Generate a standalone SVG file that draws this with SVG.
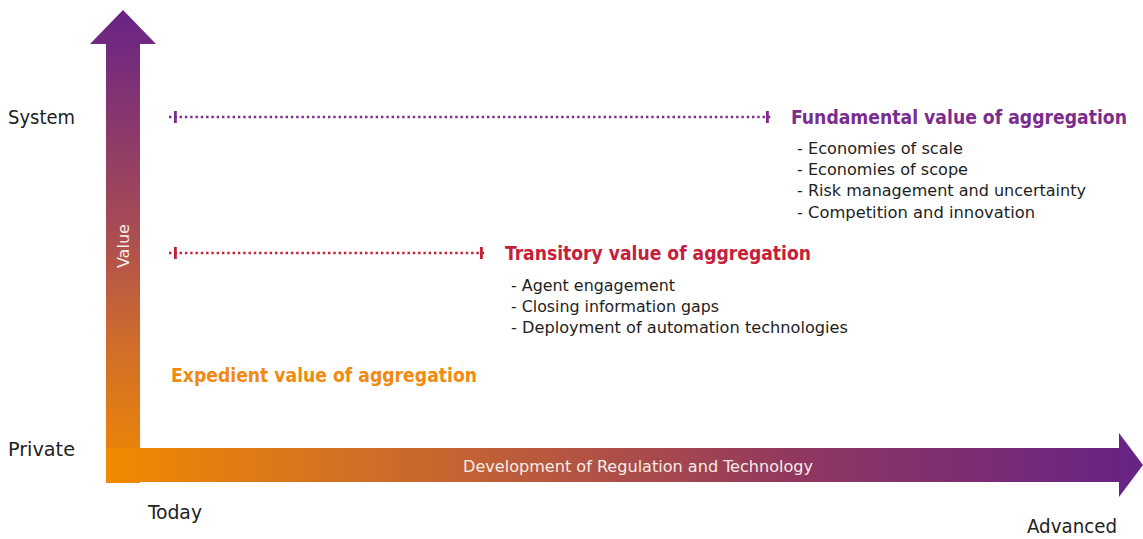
<svg xmlns="http://www.w3.org/2000/svg" width="1143" height="539" viewBox="0 0 1143 539">
  <defs>
    <linearGradient id="gradUp" gradientUnits="userSpaceOnUse" x1="0" y1="483" x2="0" y2="10">
      <stop offset="0" stop-color="#F08A00"/>
      <stop offset="0.3" stop-color="#D06C2C"/>
      <stop offset="0.55" stop-color="#A64A56"/>
      <stop offset="1" stop-color="#682386"/>
    </linearGradient>
    <linearGradient id="gradRight" gradientUnits="userSpaceOnUse" x1="106" y1="0" x2="1143" y2="0">
      <stop offset="0" stop-color="#F08A00"/>
      <stop offset="0.35" stop-color="#C46234"/>
      <stop offset="0.65" stop-color="#93395E"/>
      <stop offset="1" stop-color="#662386"/>
    </linearGradient>
    <style>
      .lbl { font-family: "DejaVu Sans Condensed", "DejaVu Sans", sans-serif; font-size: 19px; fill: #222222; }
      .title { font-family: "DejaVu Sans Condensed", "DejaVu Sans", sans-serif; font-size: 19px; font-weight: bold; }
      .item { font-family: "DejaVu Sans Condensed", "DejaVu Sans", sans-serif; font-size: 15.5px; fill: #1e1e1e; }
      .axis { font-family: "DejaVu Sans Condensed", "DejaVu Sans", sans-serif; font-size: 16px; fill: #F6ECE6; }
      .dots { fill: none; stroke-width: 2.6; stroke-dasharray: 2.4 2.9; }
      .purple { fill: #7B2D8E; }
      .red { fill: #C5203A; }
      .orange { fill: #F08A12; }
    </style>
  </defs>

  <!-- Axes: value (up) and development (right) -->
  <g id="axes">
    <polygon id="value-axis" fill="url(#gradUp)" points="106,483 106,44 90,44 123,10 156,44 140,44 140,483"/>
    <polygon id="development-axis" fill="url(#gradRight)" points="106,448 1119,448 1119,433 1143,465 1119,497 1119,482 106,482"/>
    <text class="axis" x="123" y="246" text-anchor="middle" dominant-baseline="central" transform="rotate(-90 123 246)" textLength="44" lengthAdjust="spacingAndGlyphs" font-size="16">Value</text>
    <text class="axis" x="463" y="472" textLength="350" lengthAdjust="spacingAndGlyphs">Development of Regulation and Technology</text>
  </g>

  <!-- Axis labels -->
  <g id="axis-labels">
    <text class="lbl" x="8" y="124" textLength="67" lengthAdjust="spacingAndGlyphs">System</text>
    <text class="lbl" x="8" y="456" textLength="67" lengthAdjust="spacingAndGlyphs">Private</text>
    <text class="lbl" x="148" y="519" textLength="54" lengthAdjust="spacingAndGlyphs">Today</text>
    <text class="lbl" x="1027" y="533" textLength="90" lengthAdjust="spacingAndGlyphs">Advanced</text>
  </g>

  <!-- Dotted spans with end ticks -->
  <g id="connectors">
    <line class="dots" x1="169" y1="117" x2="771" y2="117" stroke="#7B2D8E"/>
    <rect class="purple" x="174" y="111" width="2.8" height="12"/>
    <rect class="purple" x="766" y="111" width="2.8" height="12"/>
    <line class="dots" x1="169" y1="253" x2="487" y2="253" stroke="#C5203A"/>
    <rect class="red" x="174" y="247" width="2.8" height="12"/>
    <rect class="red" x="480" y="247" width="2.8" height="12"/>
  </g>

  <g id="fundamental">
    <text class="title purple" x="791" y="124" textLength="336" lengthAdjust="spacingAndGlyphs">Fundamental value of aggregation</text>
    <text class="item" x="797" y="154" textLength="166" lengthAdjust="spacingAndGlyphs">- Economies of scale</text>
    <text class="item" x="797" y="175" textLength="171" lengthAdjust="spacingAndGlyphs">- Economies of scope</text>
    <text class="item" x="797" y="196" textLength="289" lengthAdjust="spacingAndGlyphs">- Risk management and uncertainty</text>
    <text class="item" x="797" y="218" textLength="238" lengthAdjust="spacingAndGlyphs">- Competition and innovation</text>
  </g>

  <g id="transitory">
    <text class="title red" x="505" y="260" textLength="306" lengthAdjust="spacingAndGlyphs">Transitory value of aggregation</text>
    <text class="item" x="511" y="291" textLength="164" lengthAdjust="spacingAndGlyphs">- Agent engagement</text>
    <text class="item" x="511" y="312" textLength="208" lengthAdjust="spacingAndGlyphs">- Closing information gaps</text>
    <text class="item" x="511" y="333" textLength="337" lengthAdjust="spacingAndGlyphs">- Deployment of automation technologies</text>
  </g>

  <g id="expedient">
    <text class="title orange" x="171" y="382" textLength="306" lengthAdjust="spacingAndGlyphs">Expedient value of aggregation</text>
  </g>
</svg>
